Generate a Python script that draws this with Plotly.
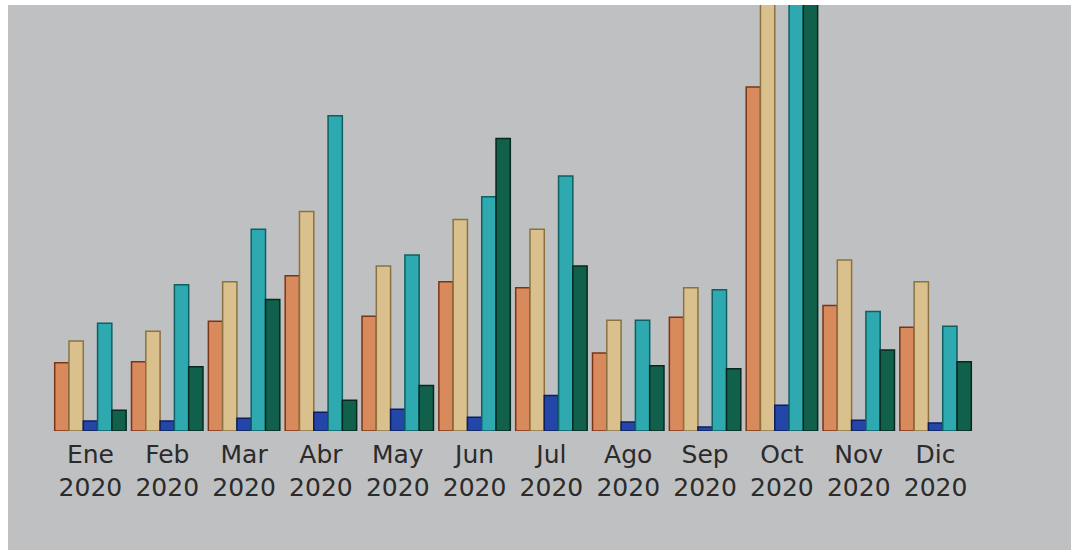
import plotly.graph_objects as go

months = ["Ene", "Feb", "Mar", "Abr", "May", "Jun", "Jul", "Ago", "Sep", "Oct", "Nov", "Dic"]
year = "2020"
tick_labels = [f"{m}<br>{year}" for m in months]

serie_a = [69, 70, 111, 157, 116, 151, 145, 79, 115, 348, 127, 105]   # orange
serie_b = [91, 101, 151, 222, 167, 214, 204, 112, 145, 470, 173, 151]  # tan
serie_c = [10, 10, 13, 19, 22, 14, 36, 9, 4, 26, 11, 8]                # blue
serie_d = [109, 148, 204, 319, 178, 237, 258, 112, 143, 480, 121, 106] # teal
serie_e = [21, 65, 133, 31, 46, 296, 167, 66, 63, 480, 82, 70]         # dark green

series = [
    ("A", serie_a, "#d98a5c", "#7a3418"),
    ("B", serie_b, "#d9c08c", "#8a7340"),
    ("C", serie_c, "#2446a8", "#0c1f5a"),
    ("D", serie_d, "#2fa9b0", "#0f5f63"),
    ("E", serie_e, "#11604c", "#06281f"),
]

W, H = 1071, 557
ML, MR, MT, MB = 52, 97, 5, 126
PW, PH = W - ML - MR, H - MT - MB

fig = go.Figure()
for name, vals, col, edge in series:
    fig.add_trace(go.Bar(
        x=months, y=vals, name=name,
        marker=dict(color=col, line=dict(color=edge, width=1.5)),
        cliponaxis=True,
    ))

# screen area (gray) inside the white photo border
x0 = (8 - ML) / PW
x1 = (W - ML) / PW
y0 = (H - MB - 550) / PH
y1 = (H - MB - 5) / PH

fig.update_layout(
    width=W, height=H,
    barmode="group", bargap=0.07, bargroupgap=0.0,
    showlegend=False,
    paper_bgcolor="#ffffff",
    plot_bgcolor="rgba(0,0,0,0)",
    margin=dict(l=ML, r=MR, t=MT, b=MB),
    font=dict(family="DejaVu Sans", size=25, color="#2b2b2b"),
    shapes=[dict(type="rect", xref="paper", yref="paper",
                 x0=x0, x1=x1, y0=y0, y1=y1,
                 fillcolor="#bfc0c2", line=dict(width=0), layer="below")],
)
fig.update_xaxes(
    tickmode="array", tickvals=months, ticktext=tick_labels,
    showgrid=False, showline=False, zeroline=False, ticks="",
    tickfont=dict(size=25, color="#2b2b2b"),
    ticklabelstandoff=6,
)
fig.update_yaxes(range=[0, 431], showgrid=False, showline=False,
                 zeroline=False, showticklabels=False, ticks="")

fig.write_html("out.html", config={"displayModeBar": False},
               post_script="document.body.style.margin='0';document.body.style.padding='0';")
